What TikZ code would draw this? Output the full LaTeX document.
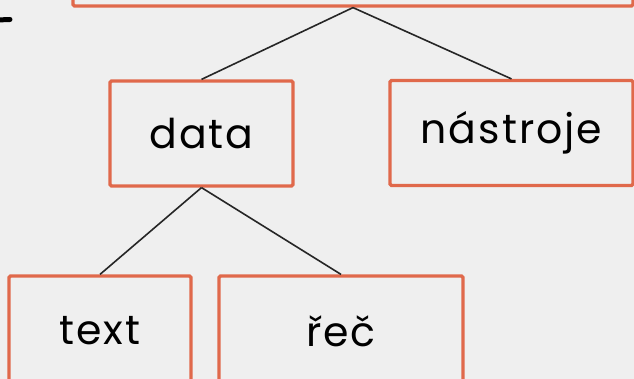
\documentclass[tikz,border=0pt]{standalone}
\usepackage{fontspec}
\setmainfont{Poppins}[LetterSpace=5]
\usepackage{tikz}
\definecolor{slidebg}{HTML}{EFEFEF}
\definecolor{boxline}{HTML}{E0694B}
\tikzset{
	treenode/.style = {shape=rectangle, rounded corners=1.5pt,
		draw=boxline, line width=3.2pt, align=center, inner sep=0pt,
		font=\fontsize{41}{45}\selectfont},
	root/.style     = {treenode, minimum width=560pt, minimum height=80pt},
	env/.style      = {treenode, minimum height=105pt},
	link/.style     = {draw, line width=1.6pt, black!85}
}
\begin{document}
\begin{tikzpicture}
	[
	x = 1pt,
	y = -1pt
	]
	\fill[slidebg] (0,0) rectangle (634,379);
	\useasboundingbox (0,0) rectangle (634,379);
	\clip (0,0) rectangle (634,379);
	\draw[line width=5pt, line cap=round] (-3,20) -- (10,19.5);
	\node [root] (obor) at (353,-34) {};
	\node [env, minimum width=183pt] (data) at (201.5,133.5) {data};
	\node [env, minimum width=243pt] (nastroje) at (511.5,133) {nástroje};
	\node [env, minimum width=182pt, minimum height=110pt] (text) at (100,331) {text};
	\node [env, minimum width=244pt, minimum height=110pt] (rec) at (341,331) {řeč};
	\draw [link] (obor.south) -- (data.north);
	\draw [link] (obor.south) -- (nastroje.north);
	\draw [link] (data.south) -- (text.north);
	\draw [link] (data.south) -- (rec.north);
\end{tikzpicture}
\end{document}
